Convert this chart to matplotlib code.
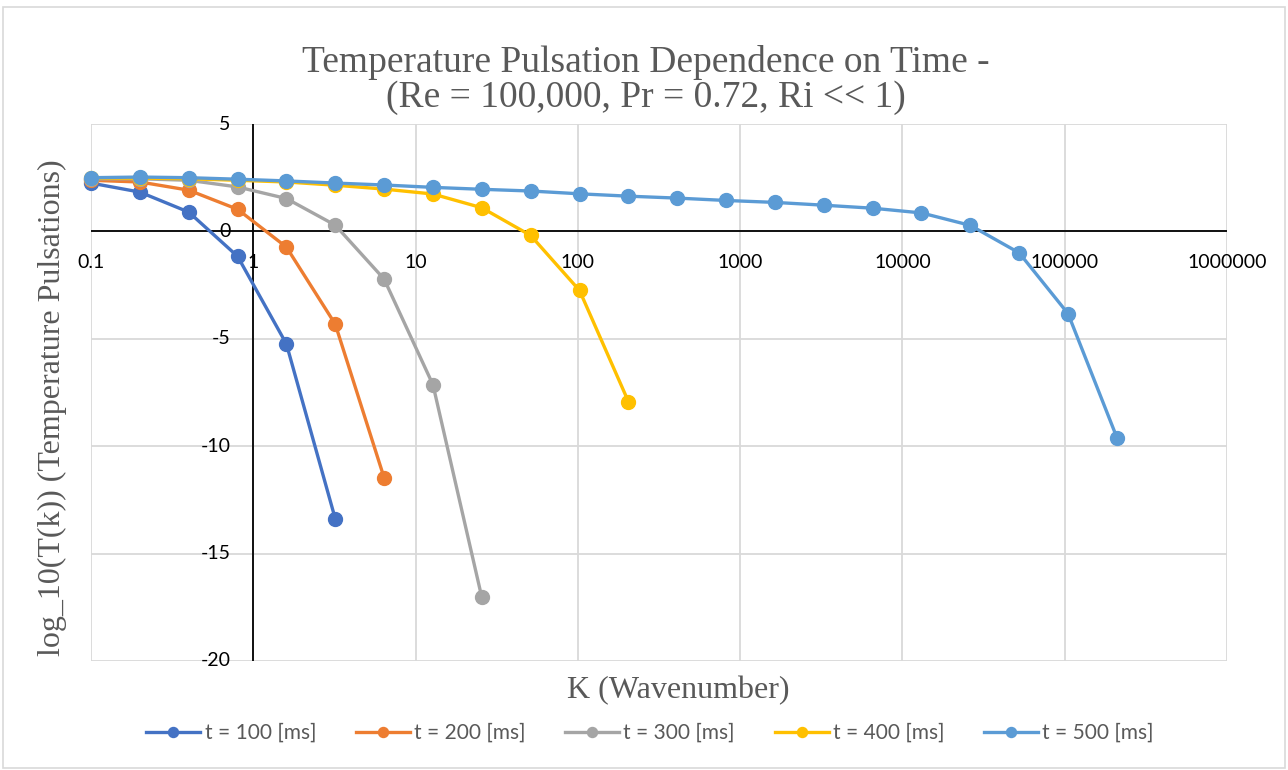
import matplotlib
matplotlib.use("Agg")
import matplotlib.pyplot as plt
from matplotlib.patches import Rectangle

# ---- data ----
k = [0.1, 0.2, 0.4, 0.8, 1.6, 3.2, 6.4, 12.8, 25.6, 51.2, 102.4, 204.8, 409.6,
     819.2, 1638.4, 3276.8, 6553.6, 13107.2, 26214.4, 52428.8, 104857.6, 209715.2]

t100 = [2.25, 1.83, 0.90, -1.16, -5.24, -13.38]
t200 = [2.38, 2.30, 1.92, 1.03, -0.73, -4.32, -11.47]
t300 = [2.45, 2.45, 2.38, 2.07, 1.53, 0.29, -2.22, -7.14, -17.04]
t400 = [2.48, 2.48, 2.45, 2.38, 2.30, 2.15, 1.97, 1.74, 1.10, -0.19, -2.75, -7.92]
t500 = [2.50, 2.53, 2.50, 2.43, 2.35, 2.25, 2.16, 2.05, 1.96, 1.88, 1.75, 1.64,
        1.55, 1.44, 1.35, 1.22, 1.08, 0.86, 0.28, -1.00, -3.83, -9.60]

series = [t100, t200, t300, t400, t500]
labels = ["t = 100 [ms]", "t = 200 [ms]", "t = 300 [ms]", "t = 400 [ms]", "t = 500 [ms]"]
colors = ["#4472C4", "#ED7D31", "#A5A5A5", "#FFC000", "#5B9BD5"]

xticks = [0.1, 1, 10, 100, 1000, 10000, 100000, 1000000]
xticklabels = ["0.1", "1", "10", "100", "1000", "10000", "100000", "1000000"]
yticks = [5, 0, -5, -10, -15, -20]
yticklabels = ["5", "0", "-5", "-10", "-15", "-20"]

title = "Temperature Pulsation Dependence on Time -\n(Re = 100,000, Pr = 0.72, Ri << 1)"
xlabel = "K (Wavenumber)"
ylabel = "log_10(T(k)) (Temperature Pulsations)"

# ---- figure ----
W, H = 1288, 770
fig = plt.figure(figsize=(W / 100, H / 100), dpi=100)
fig.patches.append(Rectangle((3 / W, 2 / H), (W - 6) / W, (H - 9) / H,
                             transform=fig.transFigure, fill=False,
                             edgecolor="#D9D9D9", lw=1.2))

L, R, T, B = 91, 1227, 124, 661
ax = fig.add_axes([L / W, 1 - B / H, (R - L) / W, (B - T) / H])
ax.set_xscale("log")
ax.set_xlim(0.1, 1e6)
ax.set_ylim(-20, 5)
for s in ax.spines.values():
    s.set_visible(False)
ax.set_xticks(xticks)
ax.set_yticks(yticks)
ax.minorticks_off()
ax.tick_params(length=0, labelbottom=False, labelleft=False)
ax.grid(True, which="major", color="#D9D9D9", lw=1.3)
ax.set_axisbelow(True)

ax.axhline(0, color="black", lw=1.3, zorder=1.5)
ax.axvline(1, color="black", lw=1.3, zorder=1.5)

tickfont = dict(family="Lato", fontsize=14, color="black")
for x, lb in zip(xticks, xticklabels):
    ax.annotate(lb, (x, 0), xytext=(0, -31), textcoords="offset pixels",
                ha="center", va="center", annotation_clip=False, **tickfont)
for y, lb in zip(yticks, yticklabels):
    ax.annotate(lb, (1, y), xytext=(-23, 0), textcoords="offset pixels",
                ha="right", va="center", annotation_clip=False, **tickfont)

handles = []
for vals, lb, c in zip(series, labels, colors):
    h, = ax.plot(k[:len(vals)], vals, color=c, lw=2.4, marker="o",
                 markersize=10, label=lb, zorder=3, clip_on=False)
    handles.append(h)

fig.text(646 / W, 1 - 80 / H, title, ha="center", va="center",
         family="Liberation Serif", fontsize=27, color="#595959", linespacing=1.05)
fig.text(678 / W, 1 - 691 / H, xlabel, ha="center", va="center",
         family="Liberation Serif", fontsize=23, color="#595959")
fig.text(52 / W, 1 - 408 / H, ylabel, ha="center", va="center", rotation=90,
         family="Liberation Serif", fontsize=23, color="#595959")

fig.legend(handles=handles, labels=labels, loc="center", ncol=5,
           bbox_to_anchor=(650 / W, 1 - 733 / H), frameon=False,
           prop=dict(family="Lato", size=15), labelcolor="#595959",
           handlelength=2.6, handletextpad=0.2, columnspacing=1.9,
           markerscale=0.72)

fig.savefig("out.png", dpi=100)
